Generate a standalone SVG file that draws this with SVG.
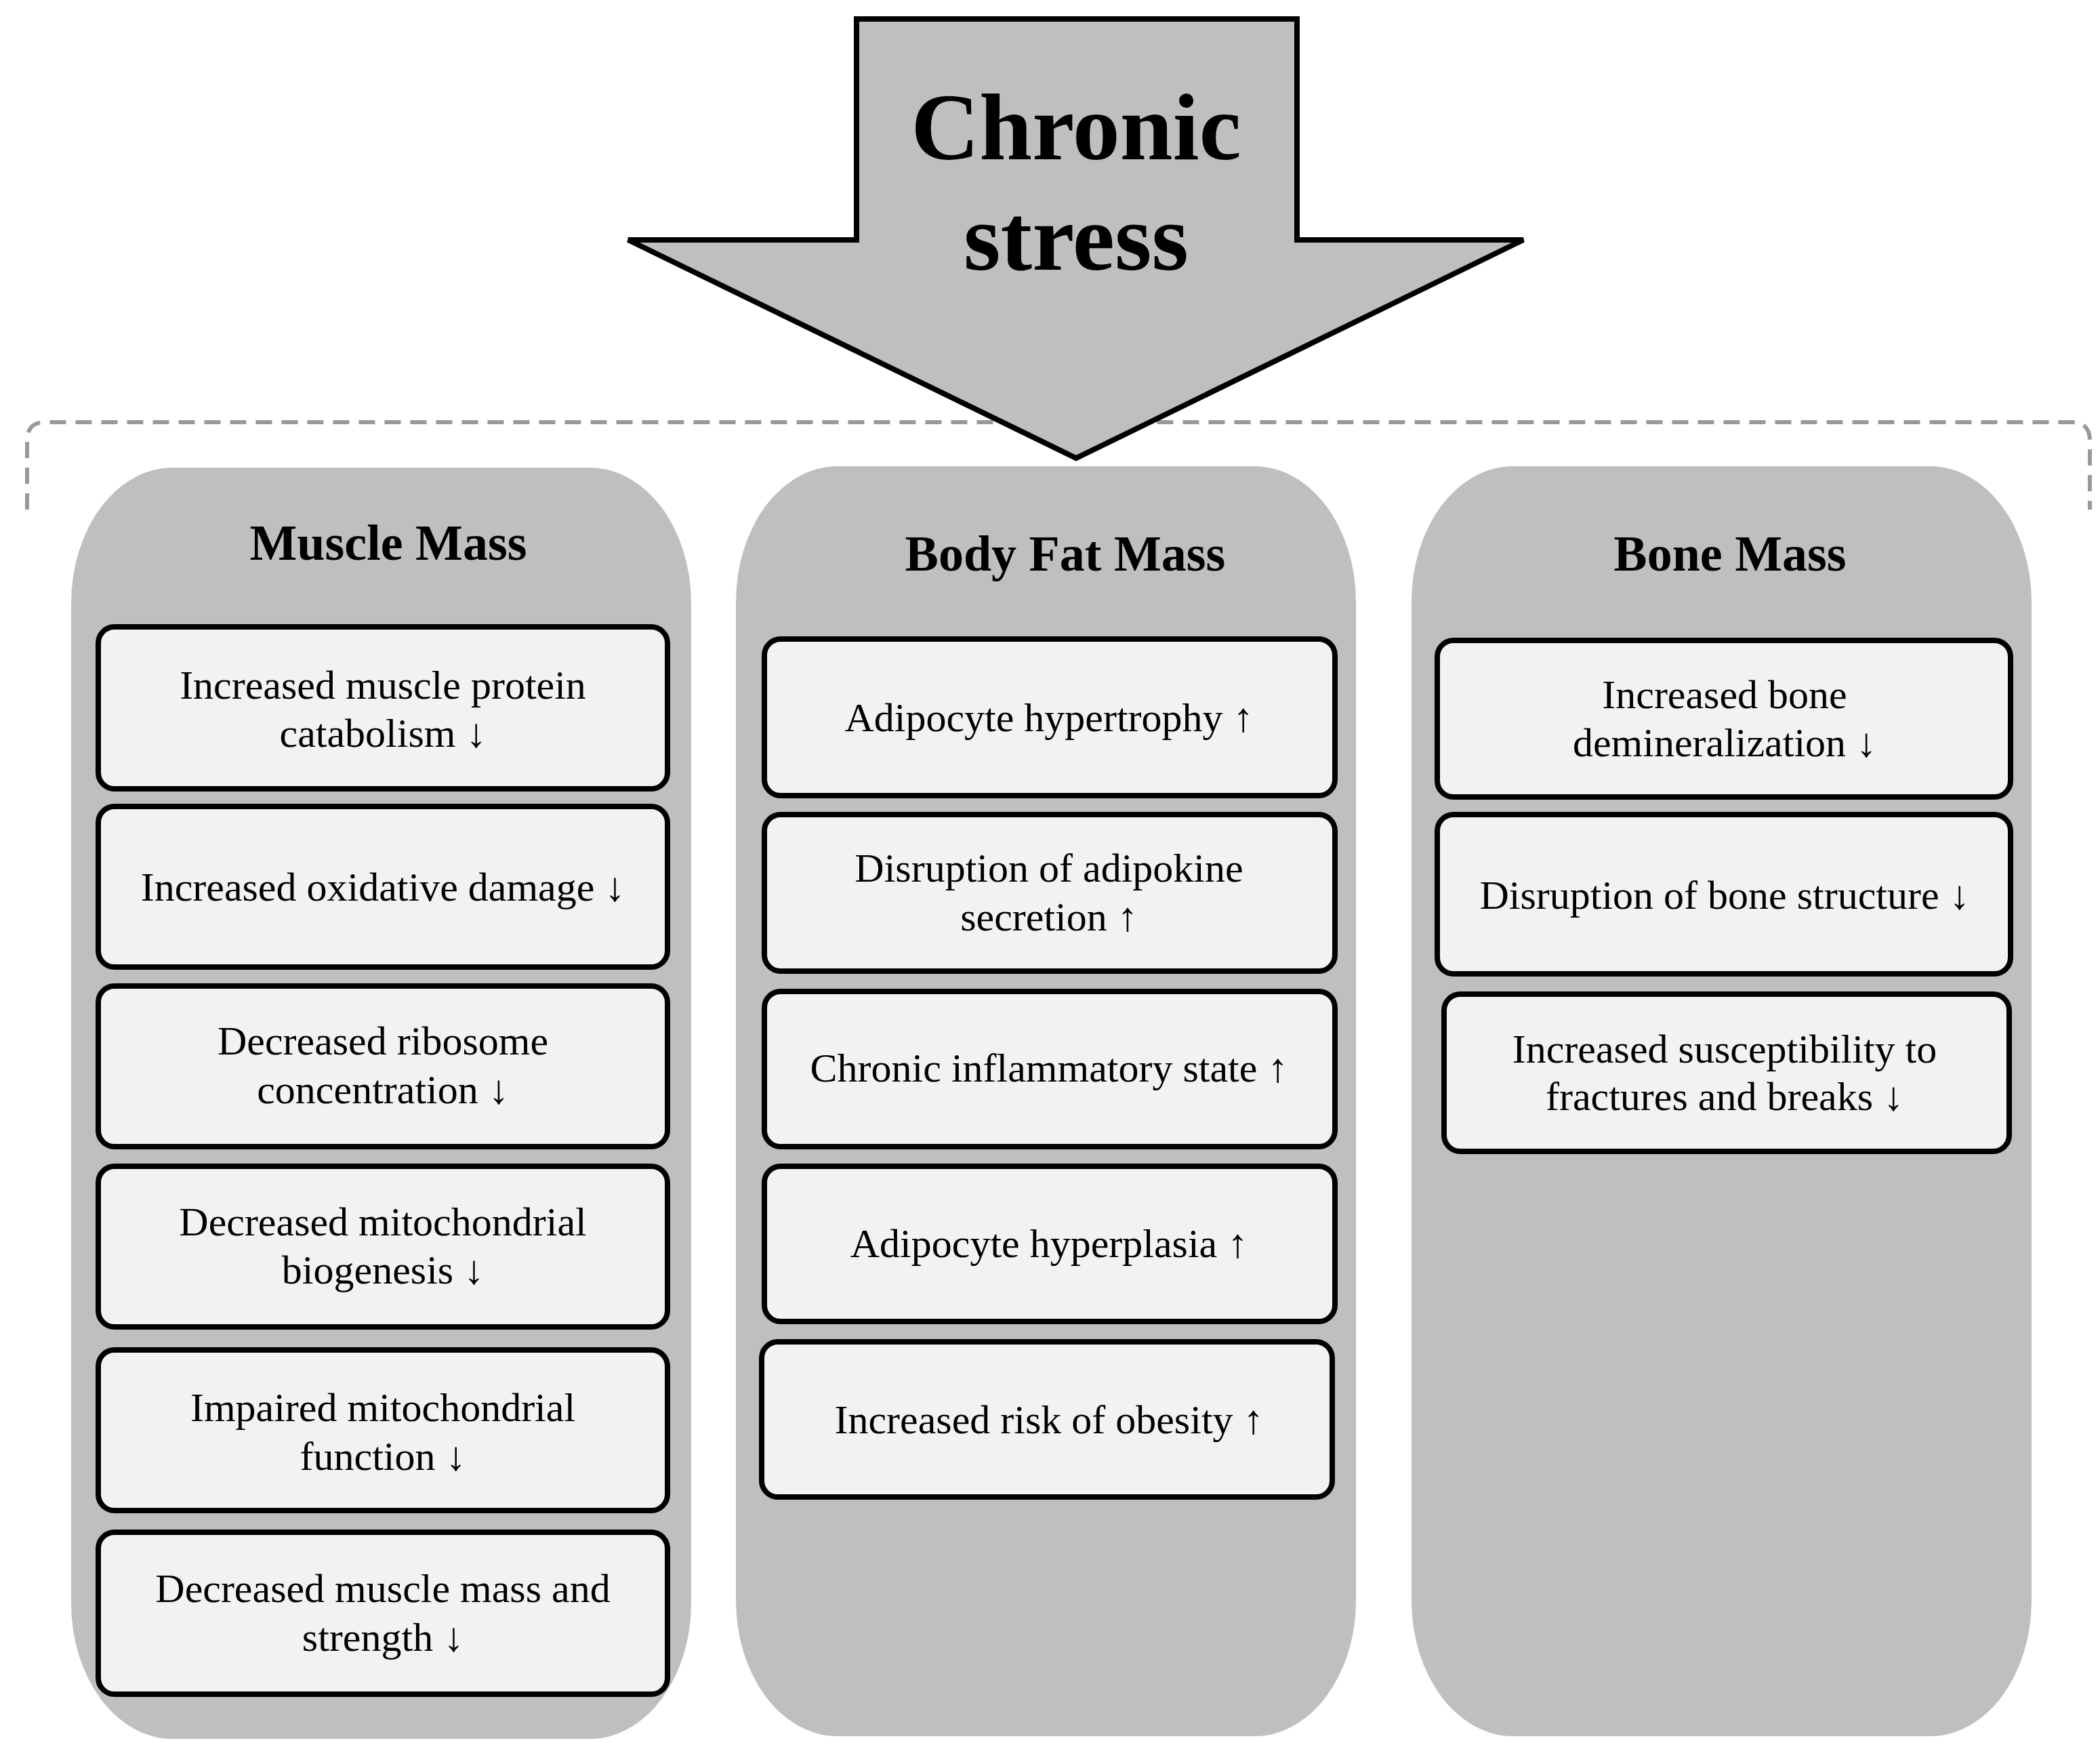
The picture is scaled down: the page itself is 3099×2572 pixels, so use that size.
<svg xmlns="http://www.w3.org/2000/svg" width="3099" height="2572" viewBox="0 0 3099 2572">
<style>
.col{fill:#bfbfbf}
.box{fill:#f2f2f2;stroke:#000;stroke-width:8}
.t{font-family:"Liberation Serif",serif;font-size:60px;text-anchor:middle;fill:#000}
.h{font-family:"Liberation Serif",serif;font-size:74px;font-weight:bold;text-anchor:middle;fill:#000}
</style>
<rect width="3099" height="2572" fill="#fff"/>
<g id="connectors">
<path d="M40 752 V650 Q40 623 67 623 H3057 Q3084 623 3084 650 V752" fill="none" stroke="#999" stroke-width="6" stroke-dasharray="24 14"/>
</g>
<g id="chronic-stress">
<polygon points="1264,28 1914,28 1914,354 2248,354 1588,676 927,354 1264,354" fill="#bfbfbf" stroke="#000" stroke-width="8" stroke-linejoin="miter"/>
<text x="1588" y="235" class="h" style="font-size:140px">Chronic</text>
<text x="1588" y="398" class="h" style="font-size:140px">stress</text>
</g>
<g id="muscle">
<rect class="col" x="105" y="690" width="915" height="1876" rx="150" ry="200"/>
<text x="573" y="826" class="h">Muscle Mass</text>
<g id="m1"><rect class="box" x="145" y="925" width="840" height="239" rx="24"/><text class="t" x="565" y="1031">Increased muscle protein</text><text class="t" x="565" y="1102">catabolism ↓</text></g>
<g id="m2"><rect class="box" x="145" y="1190" width="840" height="237" rx="24"/><text class="t" x="565" y="1329">Increased oxidative damage ↓</text></g>
<g id="m3"><rect class="box" x="145" y="1455" width="840" height="237" rx="24"/><text class="t" x="565" y="1556">Decreased ribosome</text><text class="t" x="565" y="1628">concentration ↓</text></g>
<g id="m4"><rect class="box" x="145" y="1721" width="840" height="237" rx="24"/><text class="t" x="565" y="1823">Decreased mitochondrial</text><text class="t" x="565" y="1894">biogenesis ↓</text></g>
<g id="m5"><rect class="box" x="145" y="1992" width="840" height="237" rx="24"/><text class="t" x="565" y="2097">Impaired mitochondrial</text><text class="t" x="565" y="2169">function ↓</text></g>
<g id="m6"><rect class="box" x="145" y="2261" width="840" height="239" rx="24"/><text class="t" x="565" y="2364">Decreased muscle mass and</text><text class="t" x="565" y="2436">strength ↓</text></g>
</g>
<g id="fat">
<rect class="col" x="1086" y="688" width="915" height="1874" rx="150" ry="200"/>
<text x="1572" y="842" class="h">Body Fat Mass</text>
<g id="f1"><rect class="box" x="1128" y="943" width="842" height="231" rx="24"/><text class="t" x="1548" y="1079">Adipocyte hypertrophy ↑</text></g>
<g id="f2"><rect class="box" x="1128" y="1202" width="842" height="231" rx="24"/><text class="t" x="1548" y="1301">Disruption of adipokine</text><text class="t" x="1548" y="1373">secretion ↑</text></g>
<g id="f3"><rect class="box" x="1128" y="1463" width="842" height="229" rx="24"/><text class="t" x="1548" y="1596">Chronic inflammatory state ↑</text></g>
<g id="f4"><rect class="box" x="1128" y="1721" width="842" height="229" rx="24"/><text class="t" x="1548" y="1855">Adipocyte hyperplasia ↑</text></g>
<g id="f5"><rect class="box" x="1124" y="1980" width="842" height="229" rx="24"/><text class="t" x="1548" y="2115">Increased risk of obesity ↑</text></g>
</g>
<g id="bone">
<rect class="col" x="2083" y="688" width="915" height="1874" rx="150" ry="200"/>
<text x="2553" y="842" class="h">Bone Mass</text>
<g id="b1"><rect class="box" x="2121" y="945" width="846" height="231" rx="24"/><text class="t" x="2545" y="1045">Increased bone</text><text class="t" x="2545" y="1116">demineralization ↓</text></g>
<g id="b2"><rect class="box" x="2121" y="1202" width="846" height="235" rx="24"/><text class="t" x="2545" y="1341">Disruption of bone structure ↓</text></g>
<g id="b3"><rect class="box" x="2131" y="1467" width="834" height="232" rx="24"/><text class="t" x="2545" y="1568">Increased susceptibility to</text><text class="t" x="2545" y="1638">fractures and breaks ↓</text></g>
</g>
</svg>
